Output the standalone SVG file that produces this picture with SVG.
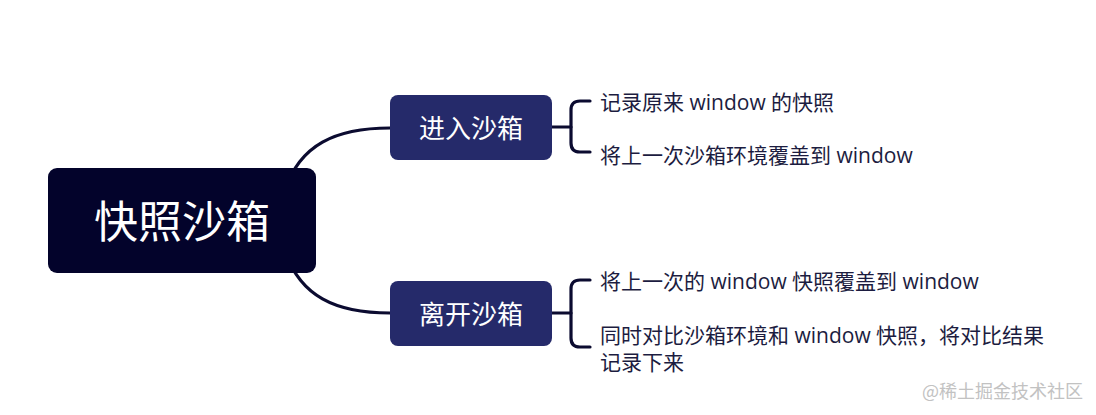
<svg xmlns="http://www.w3.org/2000/svg" width="1096" height="415" viewBox="0 0 1096 415">
<style>
.conn{fill:none;stroke:#0b0b30;stroke-width:3.2;stroke-linecap:round;stroke-linejoin:round}
.lbl{font-family:"Open Sans","Noto Sans CJK SC",sans-serif;font-size:21px;fill:#1c1c40;dominant-baseline:central}
.mid{font-family:"Open Sans","Noto Sans CJK SC",sans-serif;font-size:26px;fill:#ffffff;text-anchor:middle;dominant-baseline:central}
.child{fill:#252a6a}
</style>
<rect width="1096" height="415" fill="#ffffff"/>
<g id="connectors">
<path class="conn" d="M 285 190 C 300 145, 335 128, 390 128"/>
<path class="conn" d="M 285 251 C 300 296, 335 313, 390 313"/>
<path class="conn" d="M 552 127 H 571"/>
<path class="conn" d="M 590 101 H 580 Q 571 101 571 110 V 143 Q 571 152 580 152 H 590"/>
<path class="conn" d="M 552 313 H 571"/>
<path class="conn" d="M 590 280 H 580 Q 571 280 571 289 V 338 Q 571 347 580 347 H 590"/>
</g>
<g id="root">
<rect x="48" y="168" width="268" height="105" rx="9" fill="#03032b"/>
<text x="182" y="221" font-family="'Open Sans','Noto Sans CJK SC',sans-serif" font-size="44" fill="#ffffff" text-anchor="middle" dominant-baseline="central">快照沙箱</text>
</g>
<g id="enter">
<rect class="child" x="390" y="95" width="162" height="65" rx="8"/>
<text class="mid" x="471" y="128">进入沙箱</text>
</g>
<g id="leave">
<rect class="child" x="390" y="281" width="162" height="65" rx="8"/>
<text class="mid" x="471" y="314">离开沙箱</text>
</g>
<g id="enter-items">
<text class="lbl" x="600" y="102">记录原来 window 的快照</text>
<text class="lbl" x="600" y="155">将上一次沙箱环境覆盖到 window</text>
</g>
<g id="leave-items">
<text class="lbl" x="600" y="281">将上一次的 window 快照覆盖到 window</text>
<text class="lbl" x="600" y="335">同时对比沙箱环境和 window 快照，将对比结果</text>
<text class="lbl" x="600" y="362">记录下来</text>
</g>
<text x="922" y="390" font-family="'Noto Sans CJK SC',sans-serif" font-size="18" fill="#c2c2c2" dominant-baseline="central">@稀土掘金技术社区</text>
</svg>
